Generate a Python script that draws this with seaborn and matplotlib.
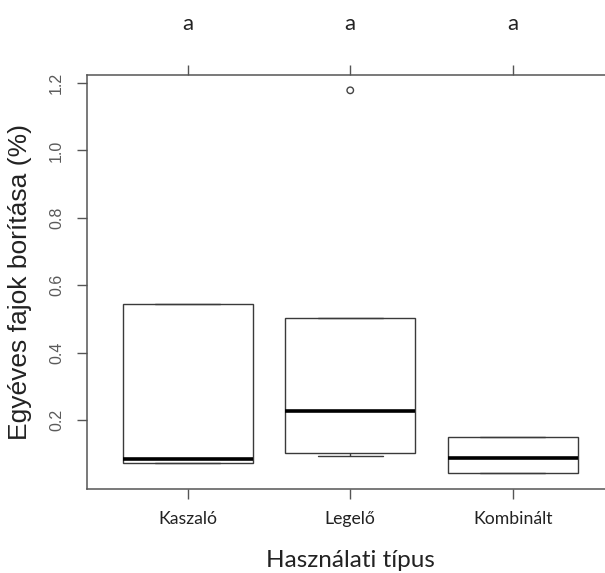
import matplotlib
matplotlib.use("Agg")
import matplotlib.pyplot as plt
import seaborn as sns
import pandas as pd

# ---- data ----
categories = ["Kaszaló", "Legelő", "Kombinált"]
whisker_low = [0.075, 0.093, 0.044]
q1 = [0.075, 0.104, 0.044]
median = [0.084, 0.229, 0.088]
q3 = [0.545, 0.503, 0.151]
whisker_high = [0.545, 0.503, 0.151]
outlier_group = ["Legelő"]
outlier_value = [1.178]
letters = ["a", "a", "a"]
yticks = [0.2, 0.4, 0.6, 0.8, 1.0, 1.2]
ylabel = "Egyéves fajok borítása (%)"
xlabel = "Használati típus"

# five values per group reproduce the box statistics exactly
rows = []
for i, c in enumerate(categories):
    for v in (whisker_low[i], q1[i], median[i], q3[i], whisker_high[i]):
        rows.append({"tipus": c, "ertek": v})
df = pd.DataFrame(rows)

sns.set_style("white")
plt.rcParams["font.family"] = ["Liberation Sans", "DejaVu Sans"]

W, H = 605, 573
fig = plt.figure(figsize=(W / 100, H / 100), dpi=100)
ax = fig.add_axes([87 / W, 84 / H, 526.5 / W, 414 / H])

frame = "#555555"
sns.boxplot(data=df, x="tipus", y="ertek", order=categories, width=0.8,
            color="white", linecolor="#3a3a3a", linewidth=1.0, whis=1.5,
            showfliers=False, saturation=1,
            medianprops=dict(color="black", linewidth=2.6),
            ax=ax)

pos = [categories.index(g) for g in outlier_group]
ax.scatter(pos, outlier_value, s=22, facecolors="none",
           edgecolors="#444444", linewidths=1.0, zorder=5)

ax.set_xlim(-0.62, 2.62)
ax.set_ylim(-0.0035, 1.2234)

for s in ax.spines.values():
    s.set_visible(True)
    s.set_color(frame)
    s.set_linewidth(1.1)

ax.set_yticks(yticks)
ax.set_yticklabels([f"{v:.1f}" for v in yticks], rotation=90, va="center",
                   fontsize=11.5, color="#5a5a5a")
ax.tick_params(axis="y", direction="out", length=7.5, width=1.0,
               color=frame, pad=9, left=True)
ax.set_xticks(range(len(categories)))
ax.set_xticklabels(categories, fontsize=12.7, family=["Lato", "DejaVu Sans"],
                   color="#222222")
ax.tick_params(axis="x", direction="out", length=7.5, width=1.0,
               color=frame, pad=8, bottom=True)

ax.set_ylabel(ylabel, fontsize=19, labelpad=12, color="#222222")
ax.set_xlabel(xlabel, fontsize=17.5, family=["Lato", "DejaVu Sans"],
              labelpad=17, color="#222222")

sec = ax.secondary_xaxis("top")
sec.set_xticks(range(len(categories)))
sec.set_xticklabels(letters, fontsize=16, family=["Lato", "DejaVu Sans"],
                    color="#222222")
sec.tick_params(axis="x", direction="out", length=7.5, width=1.0,
                color=frame, pad=22)
sec.spines["top"].set_visible(False)

fig.savefig("out.png", dpi=100)
